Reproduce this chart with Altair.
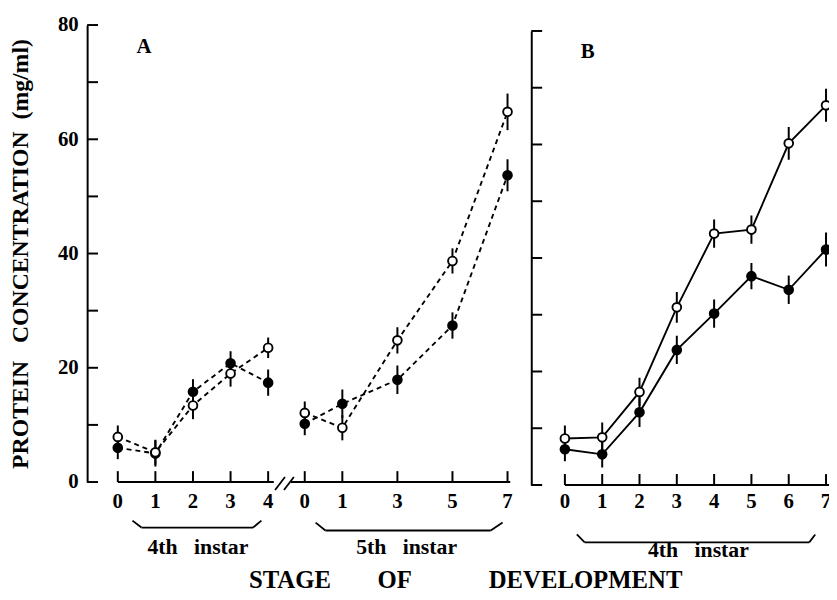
import altair as alt
import pandas as pd

FONT = "Liberation Serif"
NB = "\u00a0"

# ---------------- data ----------------
# Panel A, 4th instar
a4_stage = [0, 1, 2, 3, 4]
a4_open = [7.9, 5.2, 13.4, 19.0, 23.5]
a4_open_err = [2.0, 2.2, 2.4, 2.3, 1.8]
a4_fill = [6.0, 5.0, 15.8, 20.8, 17.4]
a4_fill_err = [2.0, 2.3, 2.2, 2.1, 2.3]

# Panel A, 5th instar
a5_stage = [0, 1, 3, 5, 7]
a5_open = [12.1, 9.5, 24.8, 38.7, 64.8]
a5_open_err = [2.0, 2.2, 2.3, 2.2, 3.2]
a5_fill = [10.2, 13.7, 17.9, 27.4, 53.7]
a5_fill_err = [2.0, 2.5, 2.5, 2.3, 2.8]

# Panel B, 4th instar
b_stage = [0, 1, 2, 3, 4, 5, 6, 7]
b_open = [8.2, 8.4, 16.4, 31.3, 44.3, 45.0, 60.2, 66.9]
b_open_err = [2.3, 2.6, 2.5, 2.7, 2.5, 2.5, 2.9, 2.9]
b_fill = [6.3, 5.4, 12.8, 23.8, 30.2, 36.8, 34.4, 41.5]
b_fill_err = [2.1, 2.3, 2.6, 2.5, 2.5, 2.3, 2.5, 3.0]

y_ticks = [0, 10, 20, 30, 40, 50, 60, 70, 80]
y_labels = [0, 20, 40, 60, 80]
a4_xticks = [0, 1, 2, 3, 4]
a5_xticks = [0, 1, 3, 5, 7]
b_xticks = [0, 1, 2, 3, 4, 5, 6, 7]

y_title = "PROTEIN" + NB * 3 + "CONCENTRATION" + NB * 2 + "(mg/ml)"
x_words = ["STAGE", "OF", "DEVELOPMENT"]
instar_4 = "4th" + NB * 3 + "instar"
instar_5 = "5th" + NB * 3 + "instar"


def series_df(stage, ov, oe, fv, fe):
    rows = []
    for s, v, e in zip(stage, fv, fe):
        rows.append(dict(stage=s, value=v, lo=v - e, hi=v + e, series="filled"))
    for s, v, e in zip(stage, ov, oe):
        rows.append(dict(stage=s, value=v, lo=v - e, hi=v + e, series="open"))
    return pd.DataFrame(rows)


ONE = alt.Data(values=[{}])


def txt(text, x, y, size, align="center"):
    return alt.Chart(ONE).mark_text(text=text, font=FONT, fontSize=size,
                                    fontWeight="bold", color="black",
                                    baseline="alphabetic", align=align).encode(
        x=alt.value(x), y=alt.value(y))


def panel(df, xscale, yscale, xticks, dash, width, height, y_axis, clip,
          y0px, bracket, bracket_y, instar_text, instar_x, instar_y,
          inward_y_ticks=True, extra=None):
    X = lambda f="stage:Q": alt.X(f, scale=xscale, axis=None)
    Y = lambda f: alt.Y(f, scale=yscale, axis=y_axis)
    base = alt.Chart(df)
    line_kw = dict(color="black", strokeWidth=1.9, clip=clip)
    if dash:
        line_kw["strokeDash"] = dash
    lines = base.mark_line(**line_kw).encode(
        x=X(), y=Y("value:Q"), detail="series:N")
    err = base.mark_rule(color="black", strokeWidth=2, clip=clip).encode(
        x=X(), y=Y("lo:Q"), y2="hi:Q")
    pts = base.mark_point(shape="circle", filled=True, size=78, stroke="black",
                          strokeWidth=1.9, opacity=1, clip=clip).encode(
        x=X(), y=Y("value:Q"),
        fill=alt.Fill("series:N", scale=alt.Scale(domain=["open", "filled"],
                                                  range=["white", "black"]),
                      legend=None))
    layers = [lines, err, pts]
    if inward_y_ticks:
        layers.append(alt.Chart(pd.DataFrame({"t": y_ticks})).mark_rule(
            color="black", strokeWidth=2).encode(
            y=Y("t:Q"), x=alt.value(0), x2=alt.value(11)))
    xt_df = pd.DataFrame({"t": xticks})
    xt = alt.Chart(xt_df).mark_rule(color="black", strokeWidth=2, clip=clip).encode(
        x=X("t:Q"), y=alt.value(y0px), y2=alt.value(y0px - 11))
    xl = alt.Chart(xt_df).mark_text(font=FONT, fontSize=21, fontWeight="bold",
                                    color="black", baseline="alphabetic",
                                    clip=clip).encode(
        x=X("t:Q"), y=alt.value(502), text=alt.Text("t:Q", format="d"))
    xd = alt.Chart(ONE).mark_rule(color="black", strokeWidth=2, clip=clip).encode(
        x=alt.X(datum=bracket[4], type="quantitative", scale=xscale, axis=None),
        x2=alt.X2(datum=bracket[5]), y=alt.value(y0px))
    bt, bb = bracket_y
    br = []
    for (xa, ya, xb, yb) in [(bracket[0], bt, bracket[1], bb),
                             (bracket[1], bb, bracket[2], bb),
                             (bracket[2], bb, bracket[3], bt)]:
        br.append(alt.Chart(ONE).mark_rule(color="black", strokeWidth=1.8).encode(
            x=alt.X(datum=xa, type="quantitative", scale=xscale, axis=None),
            x2=alt.X2(datum=xb), y=alt.value(ya), y2=alt.value(yb)))
    it = txt(instar_text, instar_x, instar_y, 22)
    layers += [xt, xl, xd] + br + [it]
    if extra:
        layers += extra
    return alt.layer(*layers).properties(width=width, height=height)


H = 584
yA = alt.Scale(domain=[0, 80], range=[476, 14], nice=False, zero=False)
yB = alt.Scale(domain=[0, 80], range=[479, 20], nice=False, zero=False)

axisA = alt.Axis(values=y_labels, ticks=False, tickSize=0, labelPadding=9,
                 labelFont=FONT, labelFontSize=21, labelFontWeight="bold",
                 labelColor="black", domainColor="black", domainWidth=2,
                 grid=False, title=y_title, titleFont=FONT, titleFontSize=24,
                 titleFontWeight="bold", titleColor="black", titleAngle=270,
                 titleAlign="center", titleBaseline="middle",
                 titleX=-67, titleY=245)
axisB = alt.Axis(values=y_labels, ticks=False, labels=False, tickSize=0,
                 domainColor="black", domainWidth=2, grid=False, title=None)

# break marks "//" on panel A's x axis
brk = []
for (x1, x2) in [(190, 200), (199, 209)]:
    brk.append(alt.Chart(ONE).mark_rule(color="black", strokeWidth=1.8).encode(
        x=alt.value(x1), x2=alt.value(x2), y=alt.value(484), y2=alt.value(471)))

pA4 = panel(series_df(a4_stage, a4_open, a4_open_err, a4_fill, a4_fill_err),
            alt.Scale(domain=[0, 4], range=[31, 183], nice=False, zero=False),
            yA, a4_xticks, [5, 4], 203, H, axisA, False, 476,
            [0.39, 0.63, 3.6, 3.82, 0, 4.15], (515, 522), instar_4, 112, 549,
            extra=brk + [txt("A", 50, 42, 21, "left")])

stage_words = [
    txt(x_words[0], 2, 583, 25),
    txt(x_words[1], 108, 583, 25),
    txt(x_words[2], 203, 583, 25, "left"),
]

pA5 = panel(series_df(a5_stage, a5_open, a5_open_err, a5_fill, a5_fill_err),
            alt.Scale(domain=[0, 1, 7], range=[17, 55, 222], nice=False, zero=False),
            yA, a5_xticks, [5, 4], 246, H, None, False, 476,
            [0.29, 0.55, 6.39, 6.82, -0.37, 7.1], (517, 525), instar_5, 120, 549,
            inward_y_ticks=False, extra=stage_words)

pB = panel(series_df(b_stage, b_open, b_open_err, b_fill, b_fill_err),
           alt.Scale(domain=[0, 7], range=[34, 298], nice=False, zero=False),
           yB, b_xticks, None, 301, H, axisB, True, 479,
           [0.32, 0.53, 6.55, 6.71, 0, 7.2], (529, 537), instar_4, 169, 552,
           extra=[txt("B", 50, 47, 21, "left")])

chart = alt.hconcat(pA4, pA5, pB, spacing=0, bounds="flush").properties(
    padding=0, background="white"
).configure_view(stroke=None)

chart.save("out.html", embed_options={"renderer": "svg", "actions": False})
